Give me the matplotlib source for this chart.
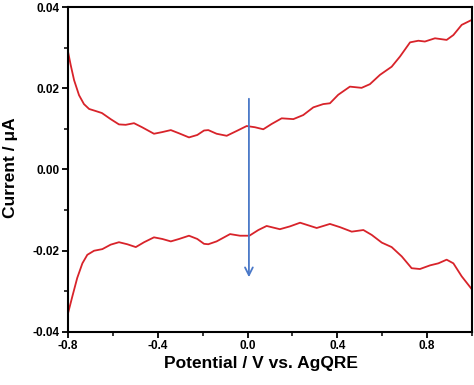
import numpy as np
import matplotlib
matplotlib.use("Agg")
import matplotlib.pyplot as plt
from matplotlib.ticker import MultipleLocator, FormatStrFormatter

# Data
# -----------------------------------------------------------------------------
upper_x = [-0.800, -0.788, -0.773, -0.751, -0.729, -0.706, -0.677, -0.649,
           -0.610, -0.573, -0.543, -0.506, -0.470, -0.417, -0.381, -0.342,
           -0.305, -0.261, -0.224, -0.194, -0.175, -0.138, -0.093, -0.048,
           -0.004, 0.033, 0.070, 0.107, 0.152, 0.204, 0.248, 0.293, 0.337,
           0.367, 0.404, 0.456, 0.508, 0.545, 0.590, 0.642, 0.679, 0.724,
           0.761, 0.790, 0.835, 0.887, 0.917, 0.954, 0.998]
upper_y = [0.0290, 0.0257, 0.0220, 0.0183, 0.0161, 0.0149, 0.0144, 0.0139,
           0.0124, 0.0111, 0.0110, 0.0114, 0.0104, 0.0088, 0.0092, 0.0097,
           0.0089, 0.0079, 0.0085, 0.0096, 0.0097, 0.0088, 0.0083, 0.0095,
           0.0107, 0.0104, 0.0099, 0.0112, 0.0126, 0.0124, 0.0134, 0.0153,
           0.0161, 0.0163, 0.0184, 0.0204, 0.0201, 0.0210, 0.0233, 0.0253,
           0.0278, 0.0313, 0.0317, 0.0315, 0.0323, 0.0319, 0.0331, 0.0356,
           0.0368]

lower_x = [-0.800, -0.781, -0.759, -0.736, -0.714, -0.684, -0.647, -0.610,
           -0.573, -0.536, -0.498, -0.461, -0.417, -0.380, -0.342, -0.305,
           -0.261, -0.224, -0.194, -0.175, -0.138, -0.078, -0.034, 0.008,
           0.048, 0.085, 0.144, 0.189, 0.234, 0.308, 0.367, 0.412, 0.464,
           0.516, 0.553, 0.598, 0.642, 0.687, 0.731, 0.768, 0.813, 0.850,
           0.887, 0.917, 0.954, 0.998]
lower_y = [-0.0354, -0.0313, -0.0267, -0.0231, -0.0210, -0.0200, -0.0196,
           -0.0185, -0.0179, -0.0184, -0.0191, -0.0179, -0.0167, -0.0171,
           -0.0177, -0.0171, -0.0163, -0.0171, -0.0183, -0.0184, -0.0177,
           -0.0159, -0.0163, -0.0163, -0.0149, -0.0139, -0.0147, -0.0140,
           -0.0131, -0.0144, -0.0134, -0.0142, -0.0153, -0.0149, -0.0161,
           -0.0180, -0.0191, -0.0214, -0.0243, -0.0245, -0.0236, -0.0231,
           -0.0222, -0.0231, -0.0263, -0.0294]

arrow_x = 0.006
arrow_y = (0.0181, -0.0272)

# Style
# -----------------------------------------------------------------------------
plt.rcParams["font.family"] = ["Liberation Sans", "DejaVu Sans"]
plt.rcParams["font.weight"] = "bold"
plt.rcParams["axes.unicode_minus"] = False

fig = plt.figure(figsize=(4.74, 3.85), dpi=100)
ax = fig.add_axes([0.1435, 0.1377, 0.8523, 0.8441])

red = "#d8232a"
ax.plot(upper_x, upper_y, color=red, linewidth=1.3, solid_joinstyle="round")
ax.plot(lower_x, lower_y, color=red, linewidth=1.3, solid_joinstyle="round")

ax.annotate("", xy=(arrow_x, arrow_y[1]), xytext=(arrow_x, arrow_y[0]),
            arrowprops=dict(arrowstyle="->", color="#4a78c8", lw=1.3,
                            mutation_scale=14))

ax.set_xlim(-0.8, 1.0)
ax.set_ylim(-0.04, 0.04)
ax.xaxis.set_major_locator(MultipleLocator(0.4))
ax.xaxis.set_minor_locator(MultipleLocator(0.2))
ax.yaxis.set_major_locator(MultipleLocator(0.02))
ax.yaxis.set_minor_locator(MultipleLocator(0.01))
ax.xaxis.set_major_formatter(FormatStrFormatter("%.1f"))
ax.yaxis.set_major_formatter(FormatStrFormatter("%.2f"))

for s in ax.spines.values():
    s.set_linewidth(1.5)
ax.tick_params(which="major", direction="out", length=4, width=1.3,
               labelsize=8.5, pad=2)
ax.tick_params(which="minor", direction="out", length=3, width=1.1)
for lab in ax.get_xticklabels() + ax.get_yticklabels():
    lab.set_fontweight("bold")

ax.set_xlabel("Potential / V vs. AgQRE", fontsize=12.5, fontweight="bold")
ax.set_ylabel("Current / \u03bcA", fontsize=12.5, fontweight="bold")
ax.xaxis.set_label_coords(0.478, -0.075)
ax.yaxis.set_label_coords(-0.125, 0.505)

plt.savefig("out.png", dpi=100)
